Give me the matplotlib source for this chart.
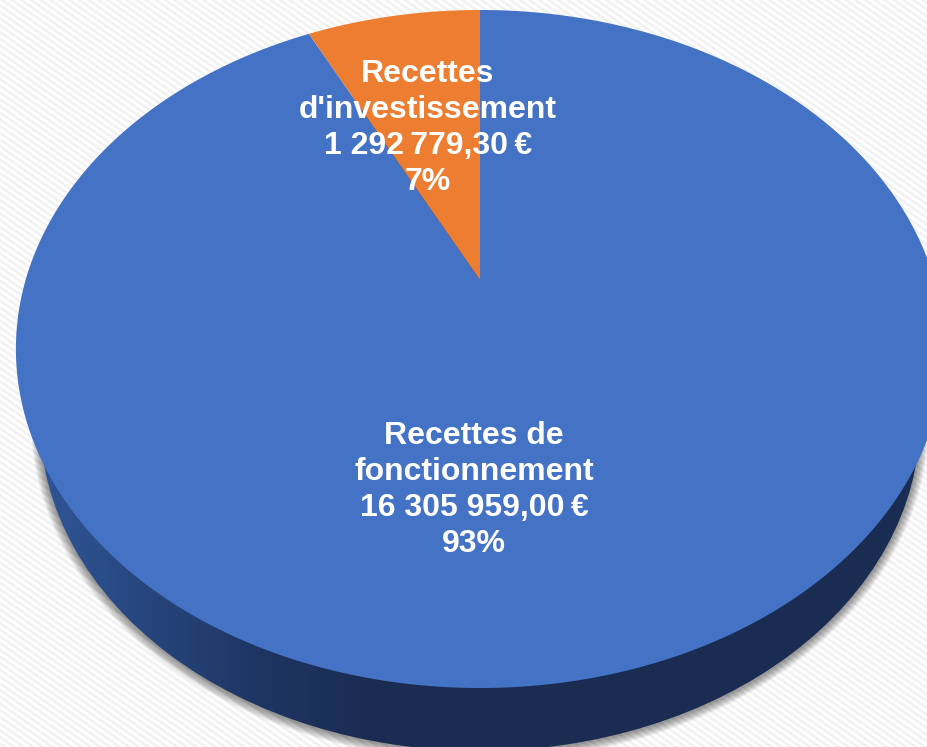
"""Recettes: 3D pie chart drawn as projected polygons"""

import numpy as np
import matplotlib
matplotlib.use('Agg')
import matplotlib.pyplot as plt
from matplotlib.colors import LinearSegmentedColormap
from matplotlib.patches import Ellipse

# Data
categories = ['Recettes de\nfonctionnement', "Recettes\nd'investissement"]
values = [16305959.00, 1292779.30]
value_labels = ['16 305 959,00\u2009€', '1 292\u2009779,30\u2009€']
pct_labels = ['93%', '7%']

# Colors
COLORS = ['#4472C4', '#ED7D31']
SIDE_STOPS = ['#2F5597', '#26457C', '#1E3562', '#1A2C52', '#1A2C52']

W, H = 927, 747

# Perspective of the pie top: unit circle -> pixels
CX, CY = 480, 280
KX = 454.4
A, C = -268.0, 0.2035

# Lower rim of the side wall (pixels)
RIM_CY, RIM_RX, RIM_RY = 420, 440, 331


def project(theta):
    u, v = np.sin(theta), np.cos(theta)
    d = C * v + 1
    return CX + KX * u / d, (A * v + CY) / d


fig = plt.figure(figsize=(W / 100, H / 100), dpi=100)
ax = fig.add_axes([0, 0, 1, 1])
ax.axis('off')

# Faint diagonal stripes in the background
yy, xx = np.mgrid[0:H, 0:W]
ang = np.deg2rad(35)
phase = (-np.sin(ang) * xx + np.cos(ang) * yy) / 5.5
stripes = 0.97 + 0.03 * np.sin(2 * np.pi * phase)
ax.imshow(stripes, cmap='gray', vmin=0, vmax=1, extent=(0, W, H, 0),
          aspect='auto', zorder=0)

# Soft shadow under the side wall
for k in range(1, 10):
    ax.add_patch(Ellipse((CX, RIM_CY + 1), 2 * (RIM_RX + k), 2 * (RIM_RY + k),
                         fc='black', ec='none', alpha=0.05, zorder=1))

# Side wall with a horizontal gradient
rim = Ellipse((CX, RIM_CY), 2 * RIM_RX, 2 * RIM_RY, fc='none', ec='none', zorder=2)
ax.add_patch(rim)
side_cmap = LinearSegmentedColormap.from_list('side', SIDE_STOPS)
grad = np.clip((np.linspace(0, W, 256) - 40) / 440, 0, 1).reshape(1, -1)
im = ax.imshow(grad, cmap=side_cmap, vmin=0, vmax=1, extent=(0, W, H, 0),
               aspect='auto', zorder=2)
im.set_clip_path(rim)

# Slices, clockwise from the top
start = 0.0
total = sum(values)
for val, color in zip(values, COLORS):
    sweep = 2 * np.pi * val / total
    th = np.linspace(start, start + sweep, 400)
    px, py = project(th)
    ax.fill(np.r_[CX, px], np.r_[CY, py], color=color, lw=0, zorder=3)
    start += sweep

# Labels
label_pos = [(474, 490), (428, 128)]
for cat, vl, pc, (lx, ly) in zip(categories, value_labels, pct_labels, label_pos):
    ax.text(lx, ly, f'{cat}\n{vl}\n{pc}', color='white', ha='center', va='center',
            fontsize=23, fontweight='bold', family='Liberation Sans',
            linespacing=1.25, zorder=4)

ax.set_xlim(0, W)
ax.set_ylim(H, 0)

fig.savefig('out.png', dpi=100)
plt.close()
